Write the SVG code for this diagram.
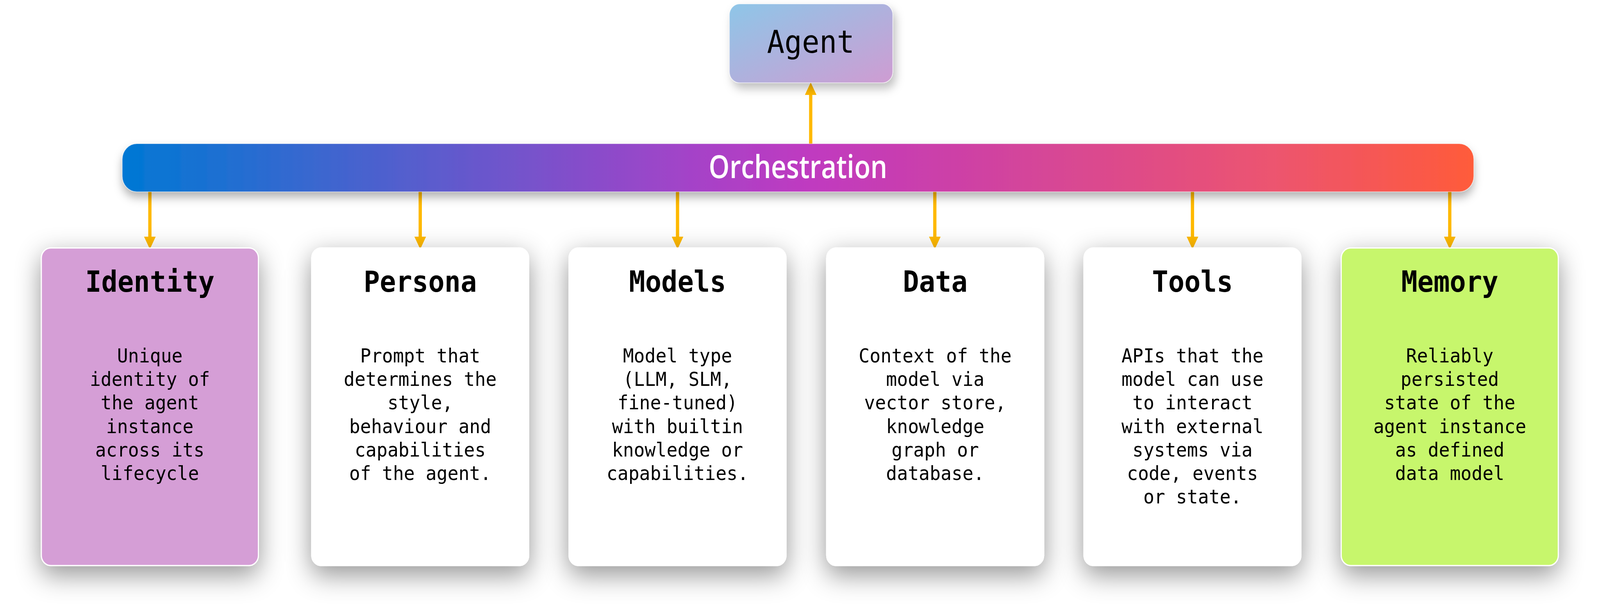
<svg xmlns="http://www.w3.org/2000/svg" width="4409" height="1567" viewBox="0 0 4409 1567" preserveAspectRatio="none" style="width:100vw;height:100vh;display:block">
<style>
.title{font-family:"DejaVu Sans Mono","Liberation Mono",monospace;font-weight:bold;font-size:74px;fill:#000;text-anchor:middle}
.desc{font-family:"DejaVu Sans Mono","Liberation Mono",monospace;font-size:50px;fill:#000;text-anchor:middle}
.card{stroke:#ffffff;stroke-width:3}
.conn{stroke:#FFB900;stroke-width:9;fill:none}
</style>
<defs>
<linearGradient id="barGrad" x1="0" y1="0" x2="1" y2="0">
<stop offset="0" stop-color="#0078D4"/>
<stop offset="0.15" stop-color="#3D66CF"/>
<stop offset="0.42" stop-color="#A443C8"/>
<stop offset="0.51" stop-color="#C03AC0"/>
<stop offset="0.61" stop-color="#CC40A8"/>
<stop offset="0.85" stop-color="#EC5470"/>
<stop offset="1" stop-color="#FF5B3A"/>
</linearGradient>
<linearGradient id="agentGrad" x1="0" y1="0" x2="1" y2="1">
<stop offset="0" stop-color="#8EC6E8"/>
<stop offset="1" stop-color="#CF9CD2"/>
</linearGradient>
<filter id="cardShadow" x="-30%" y="-20%" width="160%" height="145%">
<feDropShadow dx="0" dy="22" stdDeviation="34" flood-color="#000" flood-opacity="0.42"/>
</filter>
<filter id="barShadow" x="-5%" y="-40%" width="110%" height="200%">
<feDropShadow dx="0" dy="14" stdDeviation="12" flood-color="#000" flood-opacity="0.3"/>
</filter>
<filter id="agentShadow" x="-20%" y="-30%" width="150%" height="180%">
<feDropShadow dx="8" dy="14" stdDeviation="12" flood-color="#000" flood-opacity="0.25"/>
</filter>
<marker id="head" markerUnits="userSpaceOnUse" markerWidth="32" markerHeight="32" viewBox="0 0 30 30" refX="0" refY="15" orient="auto">
<path d="M0,0 L30,15 L0,30 Z" fill="#FFB900"/>
</marker>
</defs>
<rect width="4409" height="1567" fill="#ffffff"/>

<g id="connectors">
<line class="conn" x1="2234" y1="380" x2="2234" y2="243" marker-end="url(#head)"/>
<line class="conn" x1="413" y1="480" x2="413" y2="606" marker-end="url(#head)"/>
<line class="conn" x1="1158" y1="480" x2="1158" y2="606" marker-end="url(#head)"/>
<line class="conn" x1="1867" y1="480" x2="1867" y2="606" marker-end="url(#head)"/>
<line class="conn" x1="2576" y1="480" x2="2576" y2="606" marker-end="url(#head)"/>
<line class="conn" x1="3286" y1="480" x2="3286" y2="606" marker-end="url(#head)"/>
<line class="conn" x1="3995" y1="480" x2="3995" y2="606" marker-end="url(#head)"/>
</g>

<g id="agent">
<rect x="2010" y="10" width="450" height="202" rx="28" fill="url(#agentGrad)" stroke="#ffffff" stroke-opacity="0.5" stroke-width="2" filter="url(#agentShadow)"/>
<text x="2234" y="135" font-family="DejaVu Sans Mono, Liberation Mono, monospace" font-size="80" text-anchor="middle" fill="#000">Agent</text>
</g>

<g id="orchestration">
<rect x="337" y="368" width="3724" height="123" rx="40" fill="url(#barGrad)" stroke="#ffffff" stroke-opacity="0.35" stroke-width="2" filter="url(#barShadow)"/>
<text x="2199" y="456" font-family="Segoe UI, Open Sans, Noto Sans, sans-serif" font-weight="600" font-size="82" text-anchor="middle" fill="#ffffff" textLength="492" lengthAdjust="spacingAndGlyphs">Orchestration</text>
</g>

<g id="identity">
<rect class="card" x="114" y="635" width="598" height="813" rx="26" fill="#D59ED6" filter="url(#cardShadow)"/>
<text class="title" x="413" y="747">Identity</text>
<text class="desc" x="413" y="928">Unique</text>
<text class="desc" x="413" y="988">identity of</text>
<text class="desc" x="413" y="1048">the agent</text>
<text class="desc" x="413" y="1109">instance</text>
<text class="desc" x="413" y="1169">across its</text>
<text class="desc" x="413" y="1229">lifecycle</text>
</g>

<g id="persona">
<rect class="card" x="859" y="635" width="598" height="813" rx="26" fill="#ffffff" filter="url(#cardShadow)"/>
<text class="title" x="1158" y="747">Persona</text>
<text class="desc" x="1158" y="928">Prompt that</text>
<text class="desc" x="1158" y="988">determines the</text>
<text class="desc" x="1158" y="1048">style,</text>
<text class="desc" x="1158" y="1109">behaviour and</text>
<text class="desc" x="1158" y="1169">capabilities</text>
<text class="desc" x="1158" y="1229">of the agent.</text>
</g>

<g id="models">
<rect class="card" x="1568" y="635" width="598" height="813" rx="26" fill="#ffffff" filter="url(#cardShadow)"/>
<text class="title" x="1867" y="747">Models</text>
<text class="desc" x="1867" y="928">Model type</text>
<text class="desc" x="1867" y="988">(LLM, SLM,</text>
<text class="desc" x="1867" y="1048">fine-tuned)</text>
<text class="desc" x="1867" y="1109">with builtin</text>
<text class="desc" x="1867" y="1169">knowledge or</text>
<text class="desc" x="1867" y="1229">capabilities.</text>
</g>

<g id="data">
<rect class="card" x="2278" y="635" width="598" height="813" rx="26" fill="#ffffff" filter="url(#cardShadow)"/>
<text class="title" x="2577" y="747">Data</text>
<text class="desc" x="2577" y="928">Context of the</text>
<text class="desc" x="2577" y="988">model via</text>
<text class="desc" x="2577" y="1048">vector store,</text>
<text class="desc" x="2577" y="1109">knowledge</text>
<text class="desc" x="2577" y="1169">graph or</text>
<text class="desc" x="2577" y="1229">database.</text>
</g>

<g id="tools">
<rect class="card" x="2987" y="635" width="598" height="813" rx="26" fill="#ffffff" filter="url(#cardShadow)"/>
<text class="title" x="3286" y="747">Tools</text>
<text class="desc" x="3286" y="928">APIs that the</text>
<text class="desc" x="3286" y="988">model can use</text>
<text class="desc" x="3286" y="1048">to interact</text>
<text class="desc" x="3286" y="1109">with external</text>
<text class="desc" x="3286" y="1169">systems via</text>
<text class="desc" x="3286" y="1229">code, events</text>
<text class="desc" x="3286" y="1289">or state.</text>
</g>

<g id="memory">
<rect class="card" x="3696" y="635" width="598" height="813" rx="26" fill="#C7F66C" filter="url(#cardShadow)"/>
<text class="title" x="3995" y="747">Memory</text>
<text class="desc" x="3995" y="928">Reliably</text>
<text class="desc" x="3995" y="988">persisted</text>
<text class="desc" x="3995" y="1048">state of the</text>
<text class="desc" x="3995" y="1109">agent instance</text>
<text class="desc" x="3995" y="1169">as defined</text>
<text class="desc" x="3995" y="1229">data model</text>
</g>
</svg>
